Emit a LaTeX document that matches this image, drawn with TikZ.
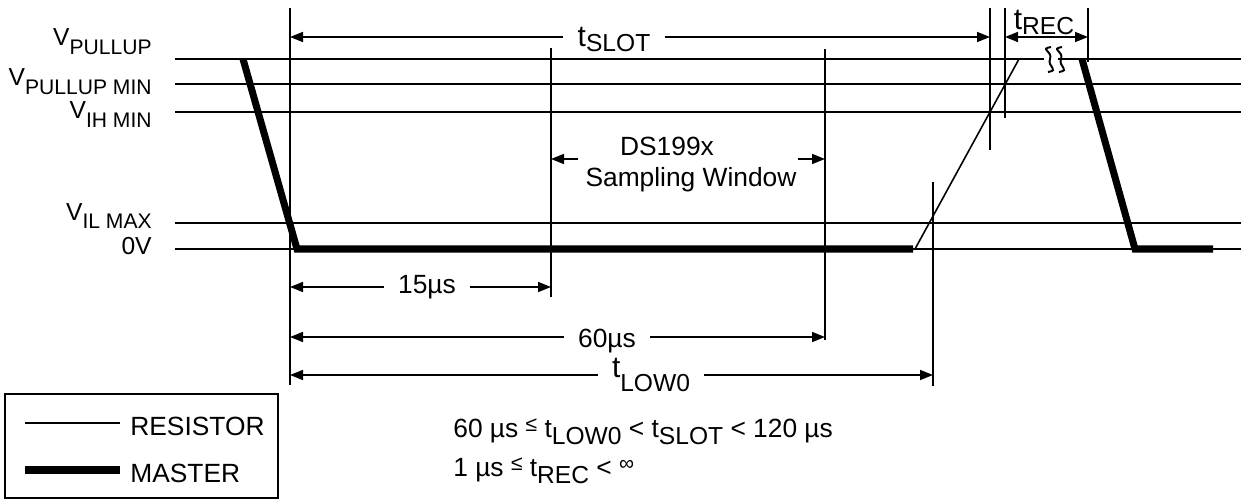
\documentclass[tikz,border=0pt]{standalone}
\usepackage{fontspec}
\setmainfont{Liberation Sans}
\usetikzlibrary{arrows.meta}

\newcommand{\lvsub}[1]{\raisebox{-0.35em}{\fontsize{12}{14}\selectfont #1}}
\newcommand{\dsub}[2][-0.15em]{\raisebox{#1}{\fontsize{14}{16}\selectfont #2}}
\newcommand{\relsym}[1]{\raisebox{0.22em}{\fontsize{12}{14}\selectfont #1}}

\begin{document}
\begin{tikzpicture}[x=0.02cm, y=-0.02cm,
	thinline/.style={line width=0.9pt},
	master/.style={line width=4pt, line join=miter},
	dimarr/.style={line width=0.9pt, -{Triangle[length=0.26cm, width=0.2cm]}},
	dimboth/.style={line width=0.9pt, {Triangle[length=0.26cm, width=0.2cm]}-{Triangle[length=0.26cm, width=0.2cm]}},
	lvl/.style={anchor=base east, inner sep=0pt, font=\fontsize{14}{16}\selectfont},
	lbl/.style={anchor=base, inner ysep=0pt, inner xsep=0.28cm, font=\fontsize{15}{18}\selectfont},
	tlbl/.style={anchor=base, inner ysep=0pt, inner xsep=0.28cm, font=\fontsize{17}{20}\selectfont},
	txt/.style={anchor=base west, inner sep=0pt, font=\fontsize{15}{18}\selectfont}]

	\useasboundingbox (0,0) rectangle (1241,500);

	% voltage levels
	\foreach \name/\y in {pu/59, pum/84, ih/112, il/223, zero/249} {
		\coordinate (\name L) at (175,\y);
		\coordinate (\name R) at (1241,\y);
		\draw[thinline] (\name L) -- (\name R);
	}

	\node[lvl] (vpu) 	at (152,46) 	{V\lvsub{PULLUP}};
	\node[lvl] (vpum) 	at (152,86) 	{V\lvsub{PULLUP MIN}};
	\node[lvl] (vih) 	at (152,119) 	{V\lvsub{IH MIN}};
	\node[lvl] (vil) 	at (152,220) 	{V\lvsub{IL MAX}};
	\node[lvl] (vzero) 	at (152,254) 	{0V};

	% extension lines
	\foreach \name/\x/\ya/\yb in {xs/290/8/385, x15/551/48/297, x60/825/49/340, xlow/933/182/386, xslot/990/8/150, xrec/1005/8/118, xend/1088/8/62} {
		\coordinate (\name T) at (\x,\ya);
		\coordinate (\name B) at (\x,\yb);
		\draw[thinline] (\name T) -- (\name B);
	}

	% waveform
	\coordinate (m0) at (200,59);
	\coordinate (m1) at (243,59);
	\coordinate (m2) at (297,249);
	\coordinate (m3) at (913,249);
	\coordinate (r0) at (915,249);
	\coordinate (r1) at (1019,59);
	\coordinate (m4) at (1082,59);
	\coordinate (m5) at (1135,249);
	\coordinate (m6) at (1213,249);

	\draw[line width=1.6pt] (m0) -- (m1);
	\draw[master] (m1) -- (m2) -- (m3);
	\draw[thinline] (r0) -- (r1);
	\draw[master] (m4) -- (m5) -- (m6);

	% break mark
	\coordinate (bk1) at (1046,47);
	\coordinate (bk2) at (1057,47);
	\fill[white] (1044,54) rectangle (1058,64);
	\foreach \b in {bk1, bk2} {
		\draw[line width=1.1pt] (\b) ++(5,0) .. controls +(-12,2) and +(3,-8) .. ++(-1,12) .. controls +(-3,8) and +(12,-2) .. ++(-2,13);
	}

	% t_SLOT
	\coordinate (slotL) at (290,37);
	\coordinate (slotR) at (990,37);
	\node[tlbl] (tslot) at (614,47) {t\dsub{SLOT}};
	\draw[dimarr] (tslot.west |- slotL) -- (slotL);
	\draw[dimarr] (tslot.east |- slotR) -- (slotR);

	% t_REC
	\coordinate (recL) at (1005,37);
	\coordinate (recR) at (1088,37);
	\node[tlbl, inner xsep=0pt] (trec) at (1044,30) {t\dsub{REC}};
	\draw[dimboth] (recL) -- (recR);

	% sampling window
	\node[txt, anchor=base] (ds) at (667,155) {DS199x};
	\node[txt, anchor=base] (sw) at (691,186) {Sampling Window};
	\coordinate (winL) at (551,159);
	\coordinate (winLt) at (578,159);
	\coordinate (winR) at (825,159);
	\coordinate (winRt) at (798,159);
	\draw[dimarr] (winLt) -- (winL);
	\draw[dimarr] (winRt) -- (winR);

	% 15us
	\coordinate (d15L) at (290,287);
	\coordinate (d15R) at (551,287);
	\node[lbl] (d15) at (427,293) {15µs};
	\draw[dimarr] (d15.west |- d15L) -- (d15L);
	\draw[dimarr] (d15.east |- d15R) -- (d15R);

	% 60us
	\coordinate (d60L) at (290,337);
	\coordinate (d60R) at (825,337);
	\node[lbl] (d60) at (607,347) {60µs};
	\draw[dimarr] (d60.west |- d60L) -- (d60L);
	\draw[dimarr] (d60.east |- d60R) -- (d60R);

	% t_LOW0
	\coordinate (lowL) at (290,375);
	\coordinate (lowR) at (933,375);
	\node[tlbl] (tlow) at (651,377) {t\dsub[-0.5em]{LOW0}};
	\draw[dimarr] (tlow.west |- lowL) -- (lowL);
	\draw[dimarr] (tlow.east |- lowR) -- (lowR);

	% legend
	\node[draw, thinline, minimum width=5.46cm, minimum height=2.08cm, anchor=north west] (legend) at (4,393) {};
	\coordinate (resA) at (25,423);
	\coordinate (resB) at (120,423);
	\coordinate (masA) at (25,470);
	\coordinate (masB) at (120,470);
	\draw[thinline] (resA) -- (resB);
	\draw[line width=4pt] (masA) -- (masB);
	\node[txt] (resist) at (130,435) {RESISTOR};
	\node[txt] (mastr) at (130,482) {MASTER};

	% limits
	\node[txt] (lim1) at (453,437) {60 µs \relsym{≤} t\dsub[-0.3em]{LOW0} < t\dsub[-0.3em]{SLOT} < 120 µs};
	\node[txt] (lim2) at (453,476) {1 µs \relsym{≤} t\dsub[-0.3em]{REC} < \relsym{∞}};

\end{tikzpicture}
\end{document}
